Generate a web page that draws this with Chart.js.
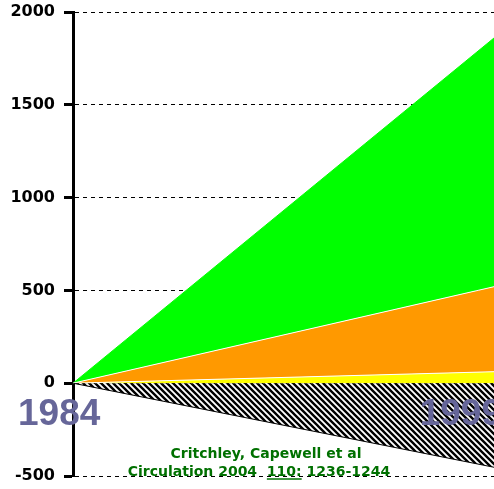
<!DOCTYPE html>
<html>
<head>
<meta charset="utf-8">
<script src="https://cdn.jsdelivr.net/npm/chart.js@4.4.0/dist/chart.umd.min.js"></script>
<style>
  body { margin: 0; background: #fff; }
  #wrap { width: 494px; height: 489px; position: relative; }
</style>
</head>
<body>
<div id="wrap"><canvas id="lifeChart"></canvas></div>
<script>
// years at the two ends of the chart (the picture is cut off on the right)
const years = [1984, 2000];
const yTicks = [-500, 0, 500, 1000, 1500, 2000];

// cumulative values (top edge of each band)
const yellowTop = [0, 62];
const orangeTop = [0, 520];
const greenTop = [0, 1860];
const hatchedBottom = [0, -453];

const yearLabels = ['1984', '1999'];
const citation = ['Critchley, Capewell et al', 'Circulation 2004  110: 1236-1244'];

function toPoints(vals) {
    return years.map((yr, i) => ({ x: yr, y: vals[i] }));
}

// diagonal black / white stripes for the negative band
function makeHatch() {
    const c = document.createElement('canvas');
    c.width = 6; c.height = 6;
    const g = c.getContext('2d');
    g.fillStyle = '#fff';
    g.fillRect(0, 0, 6, 6);
    g.strokeStyle = '#000';
    g.lineWidth = 2.4;
    g.beginPath();
    g.moveTo(-3, -3); g.lineTo(9, 9);
    g.moveTo(-3, 3); g.lineTo(3, 9);
    g.moveTo(3, -3); g.lineTo(9, 3);
    g.stroke();
    return g.createPattern(c, 'repeat');
}

const textPlugin = {
    id: 'slideText',
    afterDatasetsDraw(chart) {
        const ctx = chart.ctx;
        const x = chart.scales.x;
        ctx.save();
        ctx.fillStyle = '#666699';
        ctx.font = 'bold 37px "Liberation Sans", Arial, sans-serif';
        ctx.textAlign = 'left';
        ctx.textBaseline = 'alphabetic';
        ctx.fillText(yearLabels[0], x.getPixelForValue(1984) - 55, 425);
        ctx.fillText(yearLabels[1], x.getPixelForValue(1999) - 48, 425);
        ctx.restore();
    },
    afterDraw(chart) {
        const ctx = chart.ctx;
        ctx.save();
        ctx.fillStyle = '#007000';
        ctx.font = 'bold 14px "Comic Sans MS", "DejaVu Sans", sans-serif';
        ctx.textAlign = 'center';
        ctx.textBaseline = 'alphabetic';
        ctx.fillText(citation[0], 266, 458);
        ctx.fillText(citation[1], 259, 476);
        // underline the volume number
        const full = ctx.measureText(citation[1]).width;
        const pre = ctx.measureText('Circulation 2004  ').width;
        const vol = ctx.measureText('110:').width;
        const start = 259 - full / 2 + pre;
        ctx.strokeStyle = '#007000';
        ctx.lineWidth = 1.5;
        ctx.beginPath();
        ctx.moveTo(start, 479);
        ctx.lineTo(start + vol, 479);
        ctx.stroke();
        ctx.restore();
    }
};

const ctx = document.getElementById('lifeChart').getContext('2d');
const lifeChart = new Chart(ctx, {
    type: 'line',
    data: {
        datasets: [
            {
                label: 'negative',
                data: toPoints(hatchedBottom),
                backgroundColor: makeHatch(),
                borderColor: '#000',
                borderWidth: 1,
                fill: 'origin'
            },
            {
                label: 'yellow',
                data: toPoints(yellowTop),
                backgroundColor: '#ffff00',
                borderColor: '#ffffff',
                borderWidth: 1,
                fill: 'origin'
            },
            {
                label: 'orange',
                data: toPoints(orangeTop),
                backgroundColor: '#ff9900',
                borderColor: '#ffffff',
                borderWidth: 1,
                fill: '-1'
            },
            {
                label: 'green',
                data: toPoints(greenTop),
                backgroundColor: '#00ff00',
                borderColor: '#00ff00',
                borderWidth: 1,
                fill: '-1'
            }
        ]
    },
    options: {
        responsive: true,
        maintainAspectRatio: false,
        animation: false,
        layout: { padding: { top: 12, bottom: 13, left: 0, right: 0 } },
        elements: { point: { radius: 0 }, line: { tension: 0 } },
        plugins: {
            legend: { display: false },
            tooltip: { enabled: false }
        },
        scales: {
            x: {
                type: 'linear',
                min: years[0],
                max: years[years.length - 1],
                display: false
            },
            y: {
                min: yTicks[0],
                max: yTicks[yTicks.length - 1],
                afterFit: function(scale) {
                    scale.width = 73;
                    scale.paddingTop = 0;
                    scale.paddingBottom = 0;
                },
                afterBuildTicks: function(scale) {
                    scale.ticks = yTicks.map(v => ({ value: v }));
                },
                ticks: {
                    color: '#000',
                    padding: 9,
                    font: { family: '"DejaVu Sans", sans-serif', size: 16, weight: 'bold' },
                    callback: function(value) { return String(value); }
                },
                grid: {
                    color: '#000',
                    lineWidth: 1,
                    drawTicks: true,
                    tickLength: 9,
                    tickWidth: 3,
                    tickColor: '#000'
                },
                border: { display: true, color: '#000', width: 3, dash: [4, 4] }
            }
        }
    },
    plugins: [textPlugin]
});
</script>
</body>
</html>
